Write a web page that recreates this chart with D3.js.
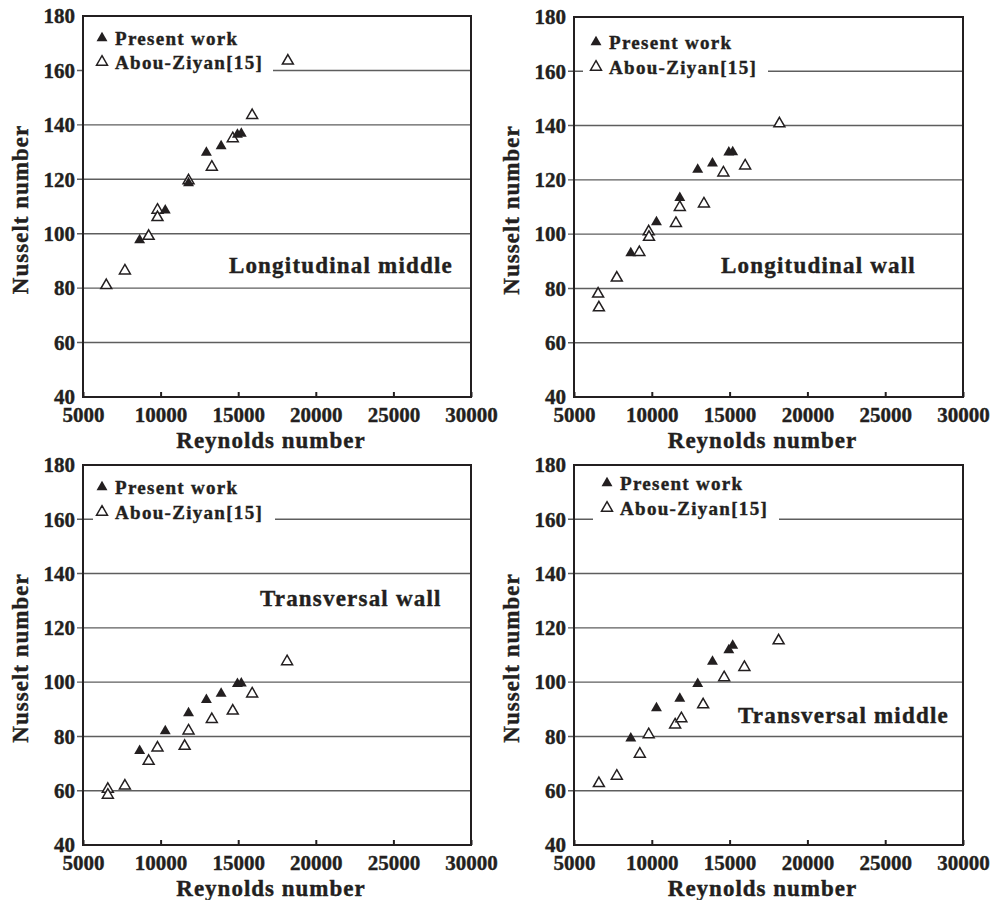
<!DOCTYPE html>
<html>
<head>
<meta charset="utf-8">
<script src="https://cdn.jsdelivr.net/npm/d3@7"></script>
<style>
  body { margin: 0; background: #fff; }
</style>
</head>
<body>
<svg id="chart" width="990" height="900"></svg>
<script>
const svg = d3.select("#chart");
const serif = "'Liberation Serif', 'Times New Roman', 'DejaVu Serif', serif";

// axes
const xTicks = [5000, 10000, 15000, 20000, 25000, 30000];
const yTicks = [40, 60, 80, 100, 120, 140, 160, 180];
const legendLabels = ["Present work", "Abou-Ziyan[15]"];
const xTitle = "Reynolds number";
const yTitle = "Nusselt number";

// present work, same Reynolds numbers in every panel
const rePresent = [8650, 10300, 11800, 12950, 13900, 14950, 15200];

// longitudinal middle
const lmPresent = [97.7, 108.6, 118.6, 129.8, 132.2, 136.4, 136.8];
const lmAbouRe = [6500, 7700, 9230, 9800, 9800, 11800, 13300, 14650, 15900, 18200];
const lmAbouNu = [81.0, 86.4, 99.1, 108.7, 106.0, 119.5, 124.5, 135.0, 143.5, 163.5];

// longitudinal wall
const lwPresent = [93.0, 104.4, 113.4, 123.8, 126.1, 130.1, 130.2];
const lwAbouRe = [6550, 6600, 7750, 9200, 9800, 9820, 11550, 11800, 13350, 14600, 16000, 18200];
const lwAbouNu = [78.0, 72.9, 83.9, 93.3, 100.9, 98.9, 104.0, 109.9, 111.2, 122.6, 125.2, 140.7];

// transversal wall
const twPresent = [74.7, 82.0, 88.6, 93.5, 95.8, 99.4, 99.6];
const twAbouRe = [6600, 6600, 7700, 9230, 9800, 11550, 11800, 13300, 14650, 15900, 18150];
const twAbouNu = [60.6, 58.4, 61.8, 70.9, 75.8, 76.4, 82.1, 86.3, 89.4, 95.7, 107.6];

// transversal middle
const tmPresent = [79.3, 90.4, 93.9, 99.4, 107.6, 111.8, 113.5];
const tmAbouRe = [6600, 7750, 9230, 9800, 11500, 11900, 13300, 14650, 15950, 18150];
const tmAbouNu = [62.7, 65.4, 73.5, 80.7, 84.3, 86.6, 91.7, 101.7, 105.5, 115.3];

const panels = [
  { label: "Longitudinal middle", labelAt: [14400, 85.6], present: lmPresent, abouRe: lmAbouRe, abouNu: lmAbouNu,
    left: 83, right: 471, top: 16, bottom: 397, leg: { dx: 19, dy: 22, gap: 24, x0: 0, x1: 190 } },
  { label: "Longitudinal wall", labelAt: [14450, 85.7], present: lwPresent, abouRe: lwAbouRe, abouNu: lwAbouNu,
    left: 574, right: 963, top: 17, bottom: 397, leg: { dx: 22, dy: 25, gap: 25, x0: 9, x1: 194 } },
  { label: "Transversal wall", labelAt: [16400, 128.0], present: twPresent, abouRe: twAbouRe, abouNu: twAbouNu,
    left: 83, right: 471, top: 465, bottom: 845, leg: { dx: 19, dy: 22, gap: 25, x0: 10, x1: 192 } },
  { label: "Transversal middle", labelAt: [15540, 85.0], present: tmPresent, abouRe: tmAbouRe, abouNu: tmAbouNu,
    left: 574, right: 963, top: 465, bottom: 845, leg: { dx: 33, dy: 18, gap: 25, x0: 19, x1: 205 } }
];

const tri = d3.symbol().type(d3.symbolTriangle).size(52);

function label(sel, size, spacing) {
  return sel
    .attr("font-family", serif)
    .attr("font-weight", "bold")
    .attr("fill", "#231f20")
    .attr("stroke", "#231f20")
    .attr("stroke-width", 0.4)
    .style("font-size", size + "px")
    .style("letter-spacing", spacing + "px");
}

function drawPanel(p) {
  const x = d3.scaleLinear().domain([5000, 30000]).range([p.left, p.right]);
  const y = d3.scaleLinear().domain([40, 180]).range([p.bottom, p.top]);
  const g = svg.append("g");

  // grid
  g.selectAll(".grid")
    .data(yTicks.slice(1, -1))
    .enter().append("line")
    .attr("x1", p.left - 6)
    .attr("x2", p.right)
    .attr("y1", d => y(d))
    .attr("y2", d => y(d))
    .attr("stroke", "#5e5e5e")
    .attr("stroke-width", 1.4);

  // legend box hides the grid line under it
  g.append("rect")
    .attr("x", p.left + p.leg.x0)
    .attr("y", p.top + 2)
    .attr("width", p.leg.x1 - p.leg.x0)
    .attr("height", y(160) - p.top + 2)
    .attr("fill", "#fff");

  // y axis labels
  const ya = g.append("g")
    .attr("transform", `translate(${p.left},0)`)
    .call(d3.axisLeft(y).tickValues(yTicks).tickFormat(d3.format("d")).tickSize(0).tickPadding(8));
  ya.select(".domain").remove();
  label(ya.selectAll("text"), 21, 0);

  // x axis
  const xa = g.append("g")
    .attr("transform", `translate(0,${p.bottom})`)
    .call(d3.axisBottom(x).tickValues(xTicks).tickFormat(d3.format("d")).tickSize(-5).tickPadding(10));
  xa.select(".domain").remove();
  xa.selectAll("line").attr("stroke", "#231f20").attr("stroke-width", 2);
  label(xa.selectAll("text"), 21, 0);

  // frame
  g.append("rect")
    .attr("x", p.left)
    .attr("y", p.top)
    .attr("width", p.right - p.left)
    .attr("height", p.bottom - p.top)
    .attr("fill", "none")
    .attr("stroke", "#231f20")
    .attr("stroke-width", 2);

  // Abou-Ziyan (open)
  g.selectAll(".abou")
    .data(p.abouRe)
    .enter().append("path")
    .attr("d", tri)
    .attr("transform", (d, i) => `translate(${x(d)},${y(p.abouNu[i])})`)
    .attr("fill", "#fff")
    .attr("stroke", "#231f20")
    .attr("stroke-width", 1.5);

  // present work (filled)
  g.selectAll(".present")
    .data(rePresent)
    .enter().append("path")
    .attr("d", tri)
    .attr("transform", (d, i) => `translate(${x(d)},${y(p.present[i])})`)
    .attr("fill", "#231f20");

  // legend
  const lx = p.left + p.leg.dx;
  legendLabels.forEach((t, i) => {
    const ly = p.top + p.leg.dy + i * p.leg.gap;
    g.append("path")
      .attr("d", tri)
      .attr("transform", `translate(${lx},${ly})`)
      .attr("fill", i == 0 ? "#231f20" : "#fff")
      .attr("stroke", "#231f20")
      .attr("stroke-width", i == 0 ? 0 : 1.5);
    label(g.append("text"), 19, 1.3)
      .attr("x", lx + 13)
      .attr("y", ly + 7)
      .text(t);
  });

  // case label
  label(g.append("text"), 23, 1.2)
    .attr("x", x(p.labelAt[0]))
    .attr("y", y(p.labelAt[1]))
    .text(p.label);

  // axis titles
  label(g.append("text"), 23, 1)
    .attr("x", (p.left + p.right) / 2 - 6)
    .attr("y", p.bottom + 51)
    .attr("text-anchor", "middle")
    .text(xTitle);

  label(g.append("text"), 23, 1)
    .attr("transform", `translate(${p.left - 55},${(p.top + p.bottom) / 2 + 3}) rotate(-90)`)
    .attr("text-anchor", "middle")
    .text(yTitle);
}

panels.forEach(drawPanel);
</script>
</body>
</html>
